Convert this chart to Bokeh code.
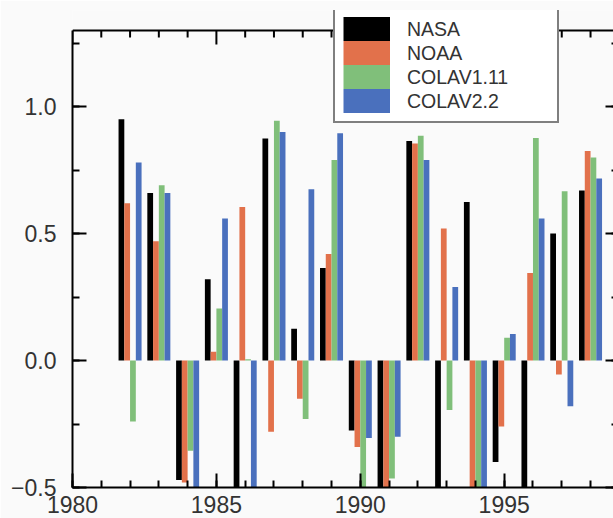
from bokeh.plotting import figure
from bokeh.models import (LinearAxis, SingleIntervalTicker, Range1d, Legend, LegendItem,
                          CustomJSTickFormatter, ColumnDataSource, Span)
from bokeh.transform import dodge
from bokeh.embed import file_html
from bokeh.resources import INLINE

# ---- data ----
years = [1982, 1983, 1984, 1985, 1986, 1987, 1988, 1989, 1990,
         1991, 1992, 1993, 1994, 1995, 1996, 1997, 1998]
nasa = [0.95, 0.66, -0.47, 0.32, -0.60, 0.875, 0.125, 0.365, -0.275,
        -0.60, 0.865, -0.60, 0.625, -0.40, -0.60, 0.50, 0.67]
noaa = [0.62, 0.47, -0.48, 0.035, 0.605, -0.28, -0.15, 0.42, -0.34,
        -0.60, 0.855, 0.52, -0.60, -0.26, 0.345, -0.055, 0.825]
colav111 = [-0.24, 0.69, -0.355, 0.205, 0.005, 0.945, -0.23, 0.79, -0.60,
            -0.465, 0.885, -0.195, -0.60, 0.09, 0.877, 0.667, 0.80]
colav22 = [0.78, 0.66, -0.60, 0.56, -0.60, 0.90, 0.675, 0.895, -0.305,
           -0.30, 0.79, 0.29, -0.60, 0.105, 0.56, -0.18, 0.717]
series_names = ["NASA", "NOAA", "COLAV1.11", "COLAV2.2"]
series_keys = ["nasa", "noaa", "colav111", "colav22"]
colors = ["#000000", "#E2714B", "#80BF7A", "#4A70BD"]
offsets = [-0.3, -0.1, 0.1, 0.3]

# axis limits of the drawn box
x_start = 1980
y_lo, y_hi = -0.5, 1.3

src = ColumnDataSource(dict(year=years, nasa=nasa, noaa=noaa,
                            colav111=colav111, colav22=colav22))

FONT = "Liberation Sans"
TXT = "#333333"
BG = "#fafafa"

W, H = 613, 518
LEFT, TOP, BOTTOM = 72, 10, 31
HEAD = 20                                   # room above the top axis for the legend
frame_w = W - LEFT
frame_h = H - TOP - BOTTOM
px_per_year = 28.78
k = (frame_h - HEAD) / (y_hi - y_lo)        # pixels per unit
x_end = x_start + frame_w / px_per_year
y_end = y_hi + HEAD / k

p = figure(width=W, height=H,
           x_range=Range1d(x_start, x_end), y_range=Range1d(y_lo, y_end),
           output_backend="svg", toolbar_location=None,
           x_axis_type=None, y_axis_type=None,
           min_border_left=LEFT, min_border_top=TOP, min_border_right=0,
           min_border_bottom=BOTTOM,
           background_fill_color=BG, border_fill_color=BG,
           outline_line_color=None)
p.xgrid.visible = False
p.ygrid.visible = False

for key, col, off in zip(series_keys, colors, offsets):
    p.vbar(x=dodge("year", off), top=key, bottom=0, width=0.2, source=src,
           fill_color=col, line_color=None)


def style(ax, labels=True, tick_in=14, minor_in=7, size="23px"):
    ax.axis_line_width = 2
    ax.axis_line_color = "black"
    ax.major_tick_line_width = 2
    ax.minor_tick_line_width = 2
    ax.major_tick_line_color = "black"
    ax.minor_tick_line_color = "black"
    ax.major_tick_in = tick_in
    ax.major_tick_out = 0
    ax.minor_tick_in = minor_in
    ax.minor_tick_out = 0
    ax.major_label_text_font = FONT
    ax.major_label_text_color = TXT
    if labels:
        ax.major_label_text_font_size = size
    else:
        ax.major_label_text_font_size = "0px"
        ax.major_label_standoff = 0
        ax.formatter = CustomJSTickFormatter(code="return ''")


xtick = SingleIntervalTicker(interval=5, num_minor_ticks=5)
ytick = SingleIntervalTicker(interval=0.5, num_minor_ticks=2)

xb = LinearAxis(ticker=xtick)
style(xb)
xb.major_label_standoff = 8
p.add_layout(xb, "below")

yl = LinearAxis(ticker=ytick, bounds=(y_lo, y_hi),
                formatter=CustomJSTickFormatter(
                    code="return (tick < 0 ? '\u2212' : '') + Math.abs(tick).toFixed(1)"))
style(yl)
yl.major_label_standoff = 16
p.add_layout(yl, "left")

yr = LinearAxis(ticker=ytick, bounds=(y_lo, y_hi))
style(yr, labels=False, tick_in=8, minor_in=2)
yr.axis_line_color = None
p.add_layout(yr, "right")

# top edge of the box at y_hi, with inward ticks (major every 5 years, minor yearly)
p.add_layout(Span(location=y_hi, dimension="width", line_color="black", line_width=2))
top_ticks = list(range(x_start, int(x_end) + 1))
tick_len = [(14 if t % 5 == 0 else 7) / k for t in top_ticks]
p.segment(x0=top_ticks, y0=[y_hi] * len(top_ticks), x1=top_ticks,
          y1=[y_hi - L for L in tick_len], line_color="black", line_width=2)

# legend swatches (contiguous colour blocks)
items = []
for name, col in zip(series_names, colors):
    r = p.line(x=[float("nan")], y=[float("nan")], line_color=col,
               line_width=25, line_cap="butt")
    items.append(LegendItem(label=name, renderers=[r]))

legend = Legend(items=items, location=(261, (H - BOTTOM) - 123),
                orientation="vertical",
                glyph_width=47, glyph_height=24, label_height=24, label_width=142,
                label_standoff=17, spacing=0, padding=8, margin=0,
                label_text_font=FONT, label_text_font_size="19.5px",
                label_text_color=TXT,
                border_line_color="black", border_line_width=2,
                background_fill_color="white", background_fill_alpha=1.0)
p.add_layout(legend, "center")

open("out.html", "w").write(file_html(p, INLINE))
